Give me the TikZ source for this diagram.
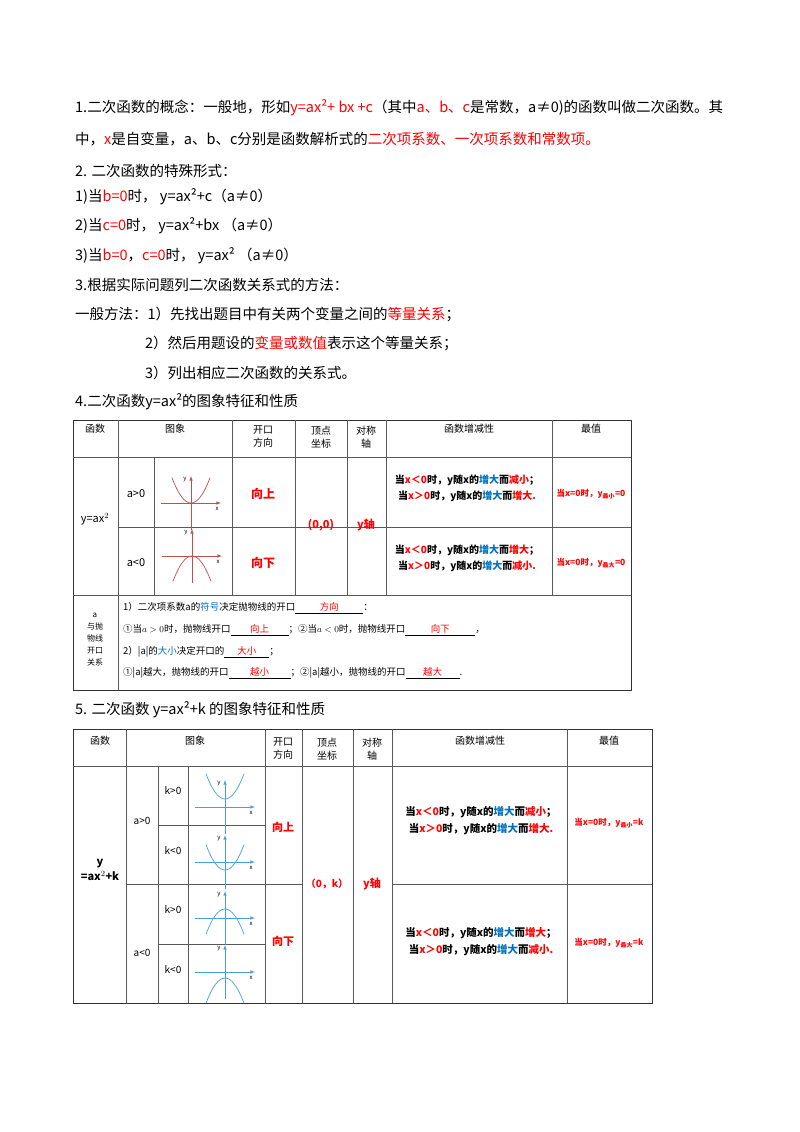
\documentclass[tikz,border=0pt]{standalone}
\usepackage{fontspec}
\setmainfont{Noto Sans CJK SC}
\usetikzlibrary{positioning}
\definecolor{hl}{RGB}{255,0,0}
\definecolor{bl}{RGB}{0,112,192}
\definecolor{cv}{RGB}{192,80,77}
\definecolor{lb}{RGB}{70,160,220}
\newcommand{\R}[1]{\textcolor{hl}{#1}}
\newcommand{\B}[1]{\textcolor{bl}{#1}}
\newcommand{\blank}[2]{\underline{\makebox[#1]{\R{#2}}}}
% small graph: origin x, origin y, sign, vertex offset, colour
\newcommand{\minigraph}[5]{%
  \begin{scope}[shift={(#1,#2)}]
    \draw[#5, line width=0.6pt, -latex] (-30,0) -- (30,0);
    \draw[#5, line width=0.6pt, -latex] (0,27) -- (0,-27);
    \draw[#5, line width=0.7pt, domain=-19:19, samples=30, smooth]
      plot (\x,{-(#3)*0.07*\x*\x-(#4)});
    \node[font=\fontsize{6}{6}\selectfont\itshape] at (-6,-23) {y};
    \node[font=\fontsize{6}{6}\selectfont\itshape] at (26,6) {x};
  \end{scope}}
\begin{document}
\begin{tikzpicture}[x=1pt, y=-1pt,
    body/.style={anchor=west, inner sep=0pt, font=\fontsize{14.5}{17}\selectfont},
    cell/.style={inner sep=0pt, align=center, font=\fontsize{10}{13}\selectfont},
    rule/.style={line width=0.5pt, gray!70!black},
    frame/.style={line width=1pt, black!80}]
  \useasboundingbox[fill=white] (0,0) rectangle (800,1132);
  % text lines
  \node[body] (l1) at (75,108) {1.二次函数的概念：一般地，形如\R{y=ax²+ bx +c}（其中\R{a、b、c}是常数，a≠0)的函数叫做二次函数。其};
  \node[body] (l2) at (75,139) {中，\R{x}是自变量，a、b、c分别是函数解析式的\R{二次项系数、一次项系数和常数项。}};
  \node[body] (l3) at (75,171) {2. 二次函数的特殊形式：};
  \node[body] (l4) at (75,197) {1)当\R{b=0}时， y=ax²+c（a≠0）};
  \node[body] (l5) at (75,226) {2)当\R{c=0}时， y=ax²+bx （a≠0）};
  \node[body] (l6) at (75,256) {3)当\R{b=0}，\R{c=0}时， y=ax² （a≠0）};
  \node[body] (l7) at (75,285) {3.根据实际问题列二次函数关系式的方法：};
  \node[body] (l8) at (75,314) {一般方法：1）先找出题目中有关两个变量之间的\R{等量关系}；};
  \node[body] (l9) at (145,343) {2）然后用题设的\R{变量或数值}表示这个等量关系；};
  \node[body] (l10) at (145,373) {3）列出相应二次函数的关系式。};
  \node[body] (l11) at (75,402) {4.二次函数y=ax²的图象特征和性质};
  % table 1
  \draw[frame] (73,420) rectangle (631,690);
  \draw[rule] (73,457) -- (631,457);
  \draw[rule] (118,527) -- (631,527);
  \draw[rule] (73,595) -- (631,595);
  \foreach \c in {118,232,295,347,386,552} \draw[rule] (\c,420) -- (\c,595);
  \draw[rule] (118,595) -- (118,690);
  \draw[rule] (154,457) -- (154,595);
  \node[cell] (h1) at (95,429) {函数};
  \node[cell] (h2) at (175,429) {图象};
  \node[cell] (h3) at (263,437) {开口\\方向};
  \node[cell] (h4) at (321,437) {顶点\\坐标};
  \node[cell] (h5) at (366,437) {对称\\轴};
  \node[cell] (h6) at (469,429) {函数增减性};
  \node[cell] (h7) at (591,429) {最值};
  \node[cell, font=\fontsize{11}{13}\selectfont] (f1) at (95,519) {y=ax$^2$};
  \node[cell, font=\fontsize{11}{13}\selectfont] (c1) at (136,494) {a>0};
  \node[cell, font=\fontsize{11}{13}\selectfont] (c2) at (136,563) {a<0};
  \minigraph{191}{503}{1}{0}{cv}
  \minigraph{192}{556}{-1}{0}{cv}
  \node[cell, font=\fontsize{12}{13}\bfseries] (o1) at (263,494) {\R{向上}};
  \node[cell, font=\fontsize{12}{13}\bfseries] (o2) at (263,563) {\R{向下}};
  \node[cell, font=\fontsize{11}{13}\bfseries] (v1) at (321,525) {\R{(0,0)}};
  \node[cell, font=\fontsize{11}{13}\bfseries] (s1) at (366,525) {\R{y轴}};
  \node[cell, font=\fontsize{10}{16}\bfseries] (m1) at (467,488) {当\R{x＜0}时，y随x的\B{增大}而\R{减小}；\\当\R{x＞0}时，y随x的\B{增大}而\R{增大.}};
  \node[cell, font=\fontsize{10}{16}\bfseries] (m2) at (467,558) {当\R{x＜0}时，y随x的\B{增大}而\R{增大}；\\当\R{x＞0}时，y随x的\B{增大}而\R{减小.}};
  \node[cell, font=\fontsize{8.5}{10}\bfseries] (e1) at (591,494) {\R{当x=0时，y\textsubscript{最小}=0}};
  \node[cell, font=\fontsize{8.5}{10}\bfseries] (e2) at (591,563) {\R{当x=0时，y\textsubscript{最大}=0}};
  \node[cell, font=\fontsize{8}{12}\selectfont] (r0) at (95,640) {a\\与抛\\物线\\开口\\关系};
  \begin{scope}[every node/.style={anchor=west, inner sep=0pt, font=\fontsize{9.5}{11}\selectfont}]
    \node (b1) at (123,608) {1）二次项系数a的\B{符号}决定抛物线的开口\blank{68pt}{方向}：};
    \node (b2) at (123,630) {①当$a>0$时，抛物线开口\blank{58pt}{向上}；②当$a<0$时，抛物线开口\blank{70pt}{向下}，};
    \node (b3) at (123,652) {2）|a|的\B{大小}决定开口的\blank{45pt}{大小}；};
    \node (b4) at (123,673) {①|a|越大，抛物线的开口\blank{62pt}{越小}；②|a|越小，抛物线的开口\blank{54pt}{越大}.};
  \end{scope}
  % title 5
  \node[body] (l12) at (75,710) {5. 二次函数 y=ax²+k 的图象特征和性质};
  % table 2
  \draw[frame] (73,729) rectangle (652,1003);
  \draw[rule] (73,766) -- (652,766);
  \draw[rule] (126,884) -- (302,884) (392,884) -- (652,884);
  \draw[rule] (158,825) -- (265,825) (158,944) -- (265,944);
  \foreach \c in {126,265,302,353,392,567} \draw[rule] (\c,729) -- (\c,1003);
  \foreach \c in {158,188} \draw[rule] (\c,766) -- (\c,1003);
  \node[cell] (g1) at (100,741) {函数};
  \node[cell] (g2) at (195,741) {图象};
  \node[cell] (g3) at (283,749) {开口\\方向};
  \node[cell] (g4) at (327,749) {顶点\\坐标};
  \node[cell] (g5) at (372,749) {对称\\轴};
  \node[cell] (g6) at (480,741) {函数增减性};
  \node[cell] (g7) at (609,741) {最值};
  \node[cell, font=\fontsize{11}{15}\bfseries] (f2) at (100,870) {y\\=ax$^2$+k};
  \node[cell] (c3) at (142,821) {a>0};
  \node[cell] (c4) at (142,953) {a<0};
  \node[cell] (k1) at (173,791) {k>0};
  \node[cell] (k2) at (173,851) {k<0};
  \node[cell] (k3) at (173,910) {k>0};
  \node[cell] (k4) at (173,970) {k<0};
  \minigraph{225}{807}{1}{8}{lb}
  \minigraph{225}{862}{1}{-8}{lb}
  \minigraph{225}{918}{-1}{9}{lb}
  \minigraph{225}{972}{-1}{-6}{lb}
  \node[cell, font=\fontsize{11}{13}\bfseries] (o3) at (283,827) {\R{向上}};
  \node[cell, font=\fontsize{11}{13}\bfseries] (o4) at (283,941) {\R{向下}};
  \node[cell, font=\fontsize{10}{13}\bfseries] (v2) at (327,884) {\R{（0，k）}};
  \node[cell, font=\fontsize{11}{13}\bfseries] (s2) at (372,884) {\R{y轴}};
  \node[cell, font=\fontsize{10.5}{17}\bfseries] (m3) at (481,821) {当\R{x＜0}时，y随x的\B{增大}而\R{减小}；\\当\R{x＞0}时，y随x的\B{增大}而\R{增大.}};
  \node[cell, font=\fontsize{10.5}{17}\bfseries] (m4) at (481,942) {当\R{x＜0}时，y随x的\B{增大}而\R{增大}；\\当\R{x＞0}时，y随x的\B{增大}而\R{减小.}};
  \node[cell, font=\fontsize{8.5}{10}\bfseries] (e3) at (609,823) {\R{当x=0时，y\textsubscript{最小}=k}};
  \node[cell, font=\fontsize{8.5}{10}\bfseries] (e4) at (609,943) {\R{当x=0时，y\textsubscript{最大}=k}};
\end{tikzpicture}
\end{document}
